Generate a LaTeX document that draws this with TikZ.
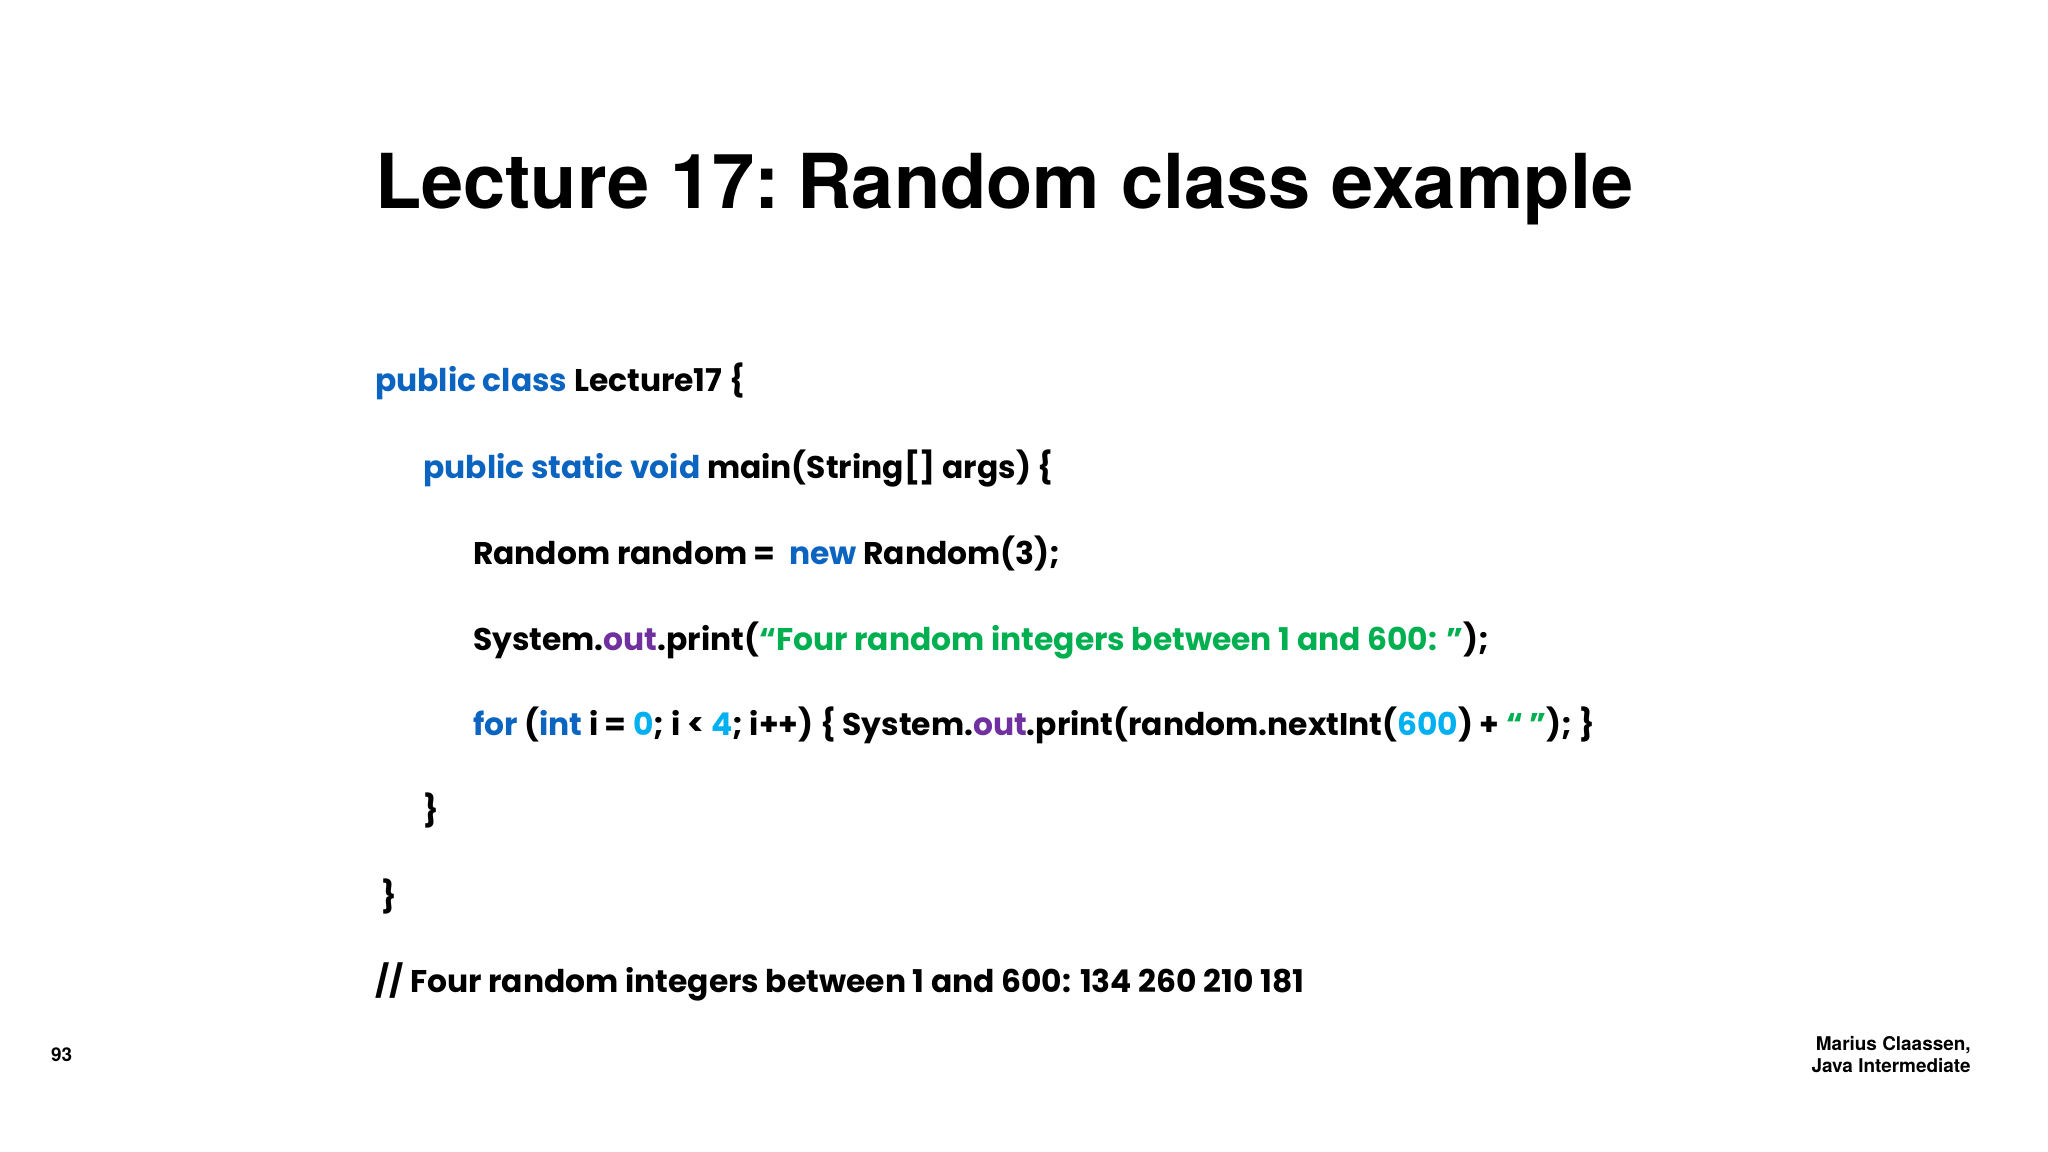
\documentclass[tikz,border=0pt]{standalone}
\usepackage{fontspec}
\setmainfont{Poppins}
\newfontfamily\heros{TeX Gyre Heros}
\definecolor{kw}{HTML}{0B64C0}
\definecolor{pu}{HTML}{7030A0}
\definecolor{gr}{HTML}{00B050}
\definecolor{nu}{HTML}{00B0F0}
\begin{document}
\begin{tikzpicture}[x=1pt,y=-1pt,
  code/.style={anchor=base west,inner sep=0pt,font=\fontsize{24}{28}\selectfont\bfseries}]
\useasboundingbox[fill=white] (0,0) rectangle (1568,882);
\node[anchor=base west,inner sep=0pt,font=\heros\bfseries\fontsize{58}{64}\selectfont] (title) at (287,160) {Lecture 17:\kern-8pt{} Random class example};
\node[code] (l1) at (287,300) {\textcolor{kw}{public class} Lecture17 \{};
\node[code] (l2) at (324,366) {\textcolor{kw}{public static void} main(String[] args) \{};
\node[code] (l3) at (362,432) {Random random = \ \textcolor{kw}{new} Random(3);};
\node[code] (l4) at (362,498) {System.\textcolor{pu}{out}.print(\textcolor{gr}{“Four random integers between 1 and 600: ”});};
\node[code] (l5) at (362,563) {\textcolor{kw}{for} (\textcolor{kw}{int} i = \textcolor{nu}{0}; i < \textcolor{nu}{4}; i++) \{ System.\textcolor{pu}{out}.print(random.nextInt(\textcolor{nu}{600}) + \textcolor{gr}{“ ”}); \}};
\node[code] (l6) at (324,629) {\}};
\node[code] (l7) at (292,695) {\}};
\node[code] (l8) at (287,760) {// Four random integers between 1 and 600: 134 260 210 181};
\node[anchor=base west,inner sep=0pt,font=\heros\bfseries\fontsize{14.5}{17}\selectfont] (pg) at (39,813) {93};
\node[anchor=north east,inner sep=0pt,align=right,font=\heros\bfseries\fontsize{14.5}{17}\selectfont] (au) at (1509,793) {Marius Claassen,\\Java Intermediate};
\end{tikzpicture}
\end{document}
